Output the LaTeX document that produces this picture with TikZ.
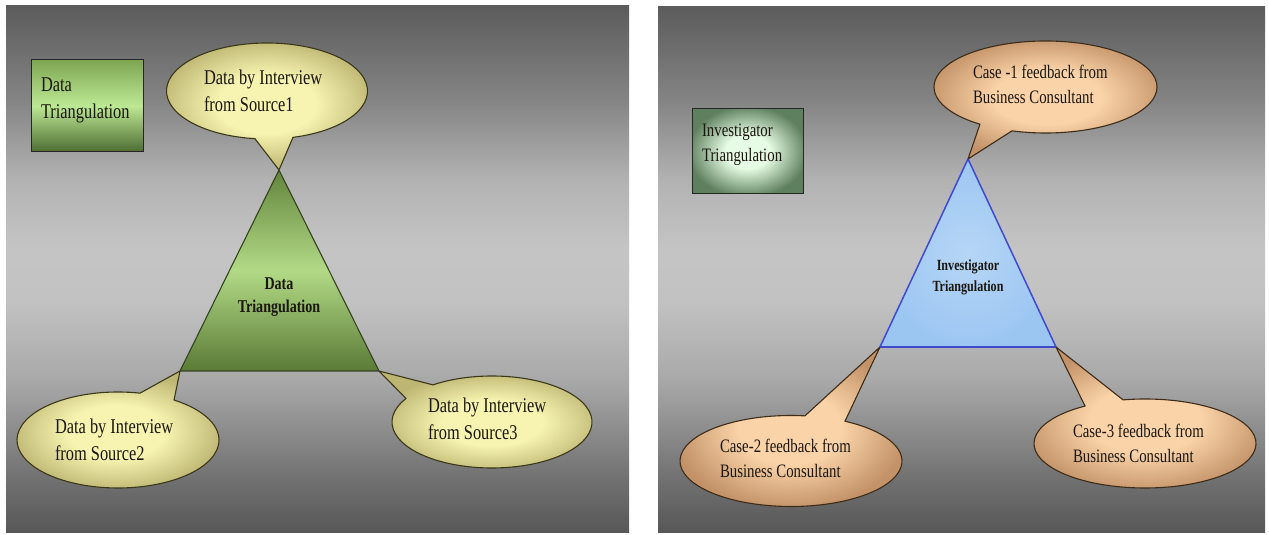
\documentclass[tikz,border=0pt]{standalone}
\usepackage{fontspec}
\setmainfont{Liberation Serif}[FakeStretch=0.78]

% panel backdrop: dark at top and bottom, light band in the middle
\definecolor{bgA}{gray}{0.34}
\definecolor{bgB}{gray}{0.44}
\definecolor{bgC}{gray}{0.55}
\definecolor{bgD}{gray}{0.66}
\definecolor{bgE}{gray}{0.76}
\definecolor{bgF}{gray}{0.77}
\definecolor{bgG}{gray}{0.70}
\definecolor{bgH}{gray}{0.52}
\definecolor{bgI}{gray}{0.36}
\pgfdeclareverticalshading{panelbg}{100bp}{%
  color(0bp)=(bgA); color(25bp)=(bgA); color(30bp)=(bgB); color(34.75bp)=(bgC);
  color(39.5bp)=(bgD); color(47bp)=(bgE); color(52bp)=(bgF); color(58.5bp)=(bgG);
  color(66bp)=(bgH); color(75bp)=(bgI); color(100bp)=(bgI)}

\definecolor{txt}{HTML}{1A160E}
\definecolor{ylin}{HTML}{F6F4B0}
\definecolor{ylout}{HTML}{BDB572}
\definecolor{ylline}{HTML}{3A3818}
\definecolor{pin}{HTML}{FAD3A8}
\definecolor{pout}{HTML}{C39268}
\definecolor{pline}{HTML}{3C2C18}
\definecolor{gtop}{HTML}{62843C}
\definecolor{gmid}{HTML}{B2DA86}
\definecolor{gbot}{HTML}{5A7A36}
\definecolor{gline}{HTML}{34421E}
\definecolor{btop}{HTML}{7EA652}
\definecolor{bmid}{HTML}{BCE894}
\definecolor{bbot}{HTML}{4E6C32}
\definecolor{blin}{HTML}{B6D6F6}
\definecolor{blout}{HTML}{9CC6F2}
\definecolor{blline}{HTML}{3E4AD2}
\definecolor{gbin}{HTML}{E6FCE4}
\definecolor{gbout}{HTML}{5E805E}

% bubble fills: pale centre that turns darker towards the rim
\pgfdeclareradialshading{yellowfill}{\pgfpoint{0bp}{0bp}}{%
  color(0bp)=(ylin); color(11bp)=(ylin); color(25bp)=(ylout); color(50bp)=(ylout)}
\pgfdeclareradialshading{peachfill}{\pgfpoint{0bp}{0bp}}{%
  color(0bp)=(pin); color(11bp)=(pin); color(25bp)=(pout); color(50bp)=(pout)}
\pgfdeclareradialshading{mintfill}{\pgfpoint{0bp}{0bp}}{%
  color(0bp)=(gbin); color(10bp)=(gbin); color(27bp)=(gbout); color(50bp)=(gbout)}

% two-line labels whose baseline is the first line
\newcommand\lefttwo[2]{\begin{tabular}[t]{@{}l@{}}#1\\#2\end{tabular}}
\newcommand\centertwo[2]{\begin{tabular}[t]{@{}c@{}}#1\\#2\end{tabular}}

% speech bubble: style, centre x, centre y, x radius, y radius,
% arc start angle, arc end angle, tip
\newcommand\bubble[8]{%
  \path[#1] (#2,#3) ++(#6:#4pt and #5pt)
    arc[start angle=#6, end angle=#7, x radius=#4pt, y radius=#5pt]
    -- (#8) -- cycle;}

\begin{document}
\begin{tikzpicture}[x=1pt, y=1pt,
  yellowbubble/.style={shade, shading=yellowfill, draw=ylline, line width=1.1pt, line join=round},
  peachbubble/.style={shade, shading=peachfill, draw=pline, line width=1.1pt, line join=round},
  lbl/.style={inner sep=0pt, outer sep=0pt, anchor=base west, text=txt,
    font=\fontsize{21}{27}\selectfont},
  lblR/.style={lbl, font=\fontsize{19}{25}\selectfont},
  tritext/.style={inner sep=0pt, outer sep=0pt, anchor=base, text=txt}]

\useasboundingbox (0,0) rectangle (1269,535);
\fill[white] (0,0) rectangle (1269,535);

% backdrops of the two panels
\shade[shading=panelbg] (6,2) rectangle (629,529);
\shade[shading=panelbg] (658,2) rectangle (1265,528);

% ---------- data triangulation ----------
\coordinate (LA) at (279,365);
\coordinate (LB) at (180,164);
\coordinate (LC) at (379,164);

\node[draw=black!85, line width=1pt, minimum width=112pt, minimum height=92pt,
  top color=btop, bottom color=bbot, middle color=bmid] (boxL) at (87,429) {};
\node[lbl] (boxLtext) at (41,443) {\lefttwo{Data}{Triangulation}};

\path[draw=gline, line width=1.1pt, line join=round,
  top color=gtop, bottom color=gbot, middle color=gmid]
  (LA) -- (LB) -- (LC) -- cycle;
\node[tritext, font=\bfseries\fontsize{18}{23}\selectfont] (triLtext) at (279,245)
  {\centertwo{Data}{Triangulation}};

\bubble{yellowbubble}{267}{444}{100.5}{48}{285}{623.1}{LA}
\node[lbl] (srcA) at (204,450) {\lefttwo{Data by Interview}{from Source1}};

\bubble{yellowbubble}{118}{95}{101}{48}{77.4}{416.3}{LB}
\node[lbl] (srcB) at (55,101) {\lefttwo{Data by Interview}{from Source2}};

\bubble{yellowbubble}{492}{113}{100}{46}{149.3}{486.2}{LC}
\node[lbl] (srcC) at (428,122) {\lefttwo{Data by Interview}{from Source3}};

% ---------- investigator triangulation ----------
\coordinate (RA) at (968,376);
\coordinate (RB) at (880,188);
\coordinate (RC) at (1056,188);

\node[draw=black!85, line width=1pt, minimum width=111pt, minimum height=85pt,
  shade, shading=mintfill] (boxR) at (747.5,383.5) {};
\node[lblR] (boxRtext) at (702,398) {\lefttwo{Investigator}{Triangulation}};

\path[draw=blline, line width=1.5pt, line join=round, inner color=blin, outer color=blout]
  (RA) -- (RB) -- (RC) -- cycle;
\draw[blline, line width=2.2pt] (RB) -- (RC);
\node[tritext, font=\bfseries\fontsize{15.5}{21}\selectfont] (triRtext) at (968,264)
  {\centertwo{Investigator}{Triangulation}};

\bubble{peachbubble}{1045.5}{448}{111.5}{46}{252.5}{594}{RA}
\node[lblR] (caseA) at (973,456) {\lefttwo{Case -1 feedback from}{Business Consultant}};

\bubble{peachbubble}{791}{74}{111}{45.5}{82.8}{420.9}{RB}
\node[lblR] (caseB) at (720,82) {\lefttwo{Case-2 feedback from}{Business Consultant}};

\bubble{peachbubble}{1145}{91.5}{111}{44.5}{122.7}{461.4}{RC}
\node[lblR] (caseC) at (1073,97) {\lefttwo{Case-3 feedback from}{Business Consultant}};

\end{tikzpicture}
\end{document}
